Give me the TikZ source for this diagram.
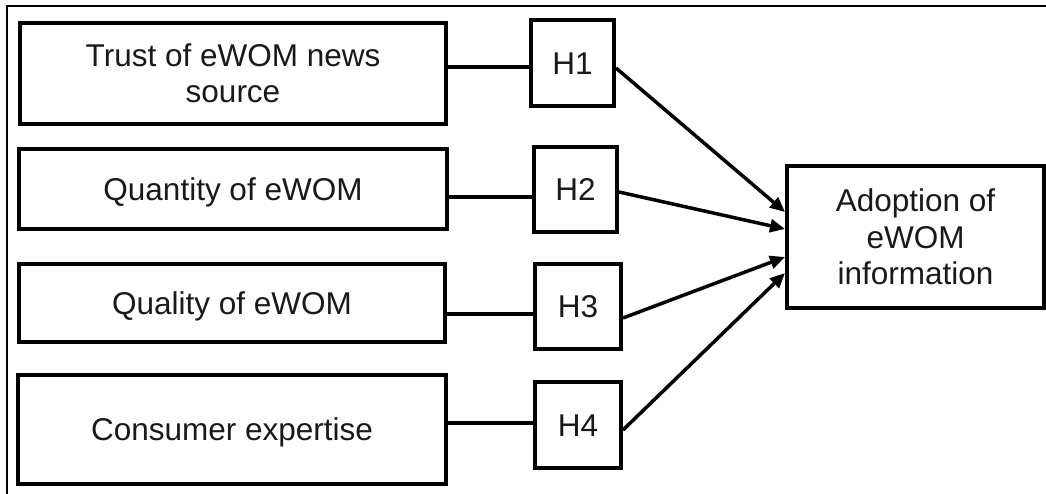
\documentclass[tikz,border=0pt]{standalone}
\usepackage{fontspec}
\setmainfont{Liberation Sans}
\usetikzlibrary{arrows.meta}
\tikzset{
  box/.style={draw=black, line width=4pt, inner sep=0pt, align=center,
    font=\fontsize{31.5}{35.5}\selectfont, text=black!90},
  oneline/.style={text height=22.5pt, text depth=0pt},
  conn/.style={draw=black, line width=3.5pt},
  arr/.style={draw=black, line width=3.5pt, -{Triangle[length=15pt,width=13pt]}},
  frameline/.style={draw=black, line width=2pt}
}
\begin{document}
\begin{tikzpicture}[x=1pt,y=-1pt]
\useasboundingbox (0,0) rectangle (1046,494);
\fill[white] (0,0) rectangle (1046,494);
% frame
\coordinate (fbl) at (7,494);
\coordinate (ftl) at (7,6);
\coordinate (ftr) at (1046,6);
\draw[frameline] (fbl) -- (ftl) -- (ftr);
% left boxes
\node[box, minimum width=426pt, minimum height=101pt] (b1) at (233,73.5) {Trust of eWOM news\\source};
\node[box, oneline, minimum width=428pt, minimum height=80pt] (b2) at (233,189) {Quantity of eWOM};
\node[box, oneline, minimum width=426pt, minimum height=78pt] (b3) at (232,303) {Quality of eWOM};
\node[box, oneline, minimum width=428pt, minimum height=109pt] (b4) at (232,429.5) {Consumer expertise};
% hypothesis boxes
\node[box, oneline, minimum width=83pt, minimum height=86pt] (h1) at (572.5,63) {H1};
\node[box, oneline, minimum width=83pt, minimum height=85pt] (h2) at (575.5,189.5) {H2};
\node[box, oneline, minimum width=86pt, minimum height=85pt] (h3) at (578,306.5) {H3};
\node[box, oneline, minimum width=86pt, minimum height=86pt] (h4) at (578,425) {H4};
% target
\node[box, minimum width=257pt, minimum height=142pt, font=\fontsize{31.5}{36.5}\selectfont] (ad) at (915.5,237) {Adoption of\\eWOM\\information};
% connectors
\draw[conn] (b1.east |- 0,67) -- (h1.west |- 0,67);
\draw[conn] (b2.east |- 0,197) -- (h2.west |- 0,197);
\draw[conn] (b3.east |- 0,314) -- (h3.west |- 0,314);
\draw[conn] (b4.east |- 0,423) -- (h4.west |- 0,423);
% arrows
\draw[arr] (h1.east |- 0,68) -- (ad.west |- 0,212);
\draw[arr] (h2.east |- 0,192) -- (ad.west |- 0,229);
\draw[arr] (h3.east |- 0,318) -- (ad.west |- 0,257);
\draw[arr] (h4.east |- 0,430) -- (ad.west |- 0,273);
\end{tikzpicture}
\end{document}
